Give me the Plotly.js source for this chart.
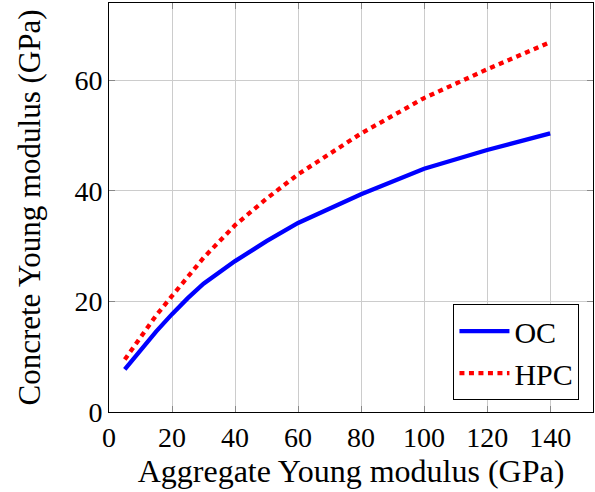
<!DOCTYPE html>
<html>
<head>
<meta charset="utf-8">
<script src="https://cdn.plot.ly/plotly-3.0.1.min.js"></script>
<style>html,body{margin:0;padding:0;background:#fff;}#chart{width:595px;height:492px;}</style>
</head>
<body>
<div id="chart"></div>
<script>
const aggregateE = [5, 10, 15, 20, 25, 30, 40, 50, 60, 80, 100, 120, 140];
const ocE  = [7.7, 11.2, 14.6, 17.7, 20.6, 23.2, 27.3, 30.9, 34.2, 39.4, 44.0, 47.4, 50.4];
const hpcE = [9.5, 13.6, 17.5, 21.0, 24.6, 27.9, 33.8, 38.6, 43.0, 50.4, 56.8, 62.0, 66.9];
const seriesNames = ["OC", "HPC"];
const xTicks = [0, 20, 40, 60, 80, 100, 120, 140];
const yTicks = [0, 20, 40, 60];

const font = "Liberation Serif";
const traces = [
  {x: aggregateE, y: ocE, name: seriesNames[0], mode: "lines",
   line: {color: "#0000ff", width: 4.3}},
  {x: aggregateE, y: hpcE, name: seriesNames[1], mode: "lines",
   line: {color: "#ff0000", width: 4.3, dash: "5px,4.5px"}}
];
const axisCommon = {
  showline: true, linecolor: "#000", linewidth: 1, mirror: "allticks",
  ticks: "inside", ticklen: 6, tickcolor: "#888", tickwidth: 1,
  showgrid: true, gridcolor: "#cccccc", gridwidth: 1, zeroline: false,
  tickfont: {family: font, size: 28, color: "#000"}
};
const layout = {
  width: 595, height: 492,
  margin: {l: 109, r: 2, t: 3, b: 80},
  paper_bgcolor: "#fff", plot_bgcolor: "#fff",
  showlegend: true,
  legend: {x: 0.972, y: 0.029, xanchor: "right", yanchor: "bottom",
    bordercolor: "#000", borderwidth: 1, bgcolor: "#fff", itemwidth: 50,
    font: {family: font, size: 30, color: "#000"}, tracegroupgap: 0},
  xaxis: Object.assign({}, axisCommon, {range: [0, 153.6], tickvals: xTicks,
    title: {text: "Aggregate Young modulus (GPa)", font: {family: font, size: 32, color: "#000"}, standoff: 6}}),
  yaxis: Object.assign({}, axisCommon, {range: [0, 74], tickvals: yTicks,
    title: {text: "Concrete Young modulus (GPa)", font: {family: font, size: 31, color: "#000"}, standoff: 24}})
};
Plotly.newPlot("chart", traces, layout, {displayModeBar: false, staticPlot: true});
</script>
</body>
</html>
